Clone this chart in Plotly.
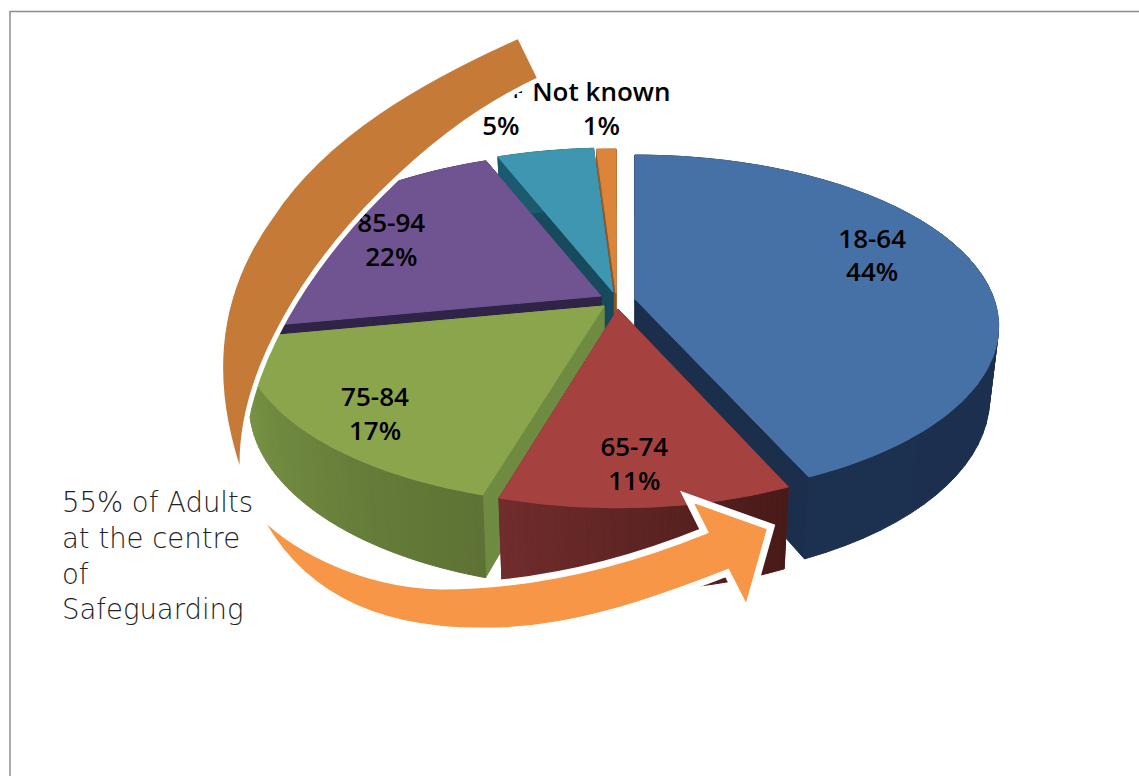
import math
import plotly.graph_objects as go

# ---- data ----
categories = ["18-64", "65-74", "75-84", "85-94", "95+", "Not known"]
values = [44, 11, 17, 22, 5, 1]
note_lines = ["55% of Adults", "at the centre", "of", "Safeguarding"]

# ---- styles and projection (not data) ----
W, H = 1139, 776
A, B, K, DEPTH, SHRINK = 359, 167, 0.16, 70, 0.975
WARP, WARP_AT, WARP_WIDTH = 2.9, 150, 55
CENTRES = {"18-64": (635, 299), "65-74": (618, 309), "75-84": (604, 306),
           "85-94": (601, 296), "95+": (613, 292), "Not known": (616, 293)}
X_SCALE = {"18-64": 1.0, "65-74": 0.98, "75-84": 1.0, "85-94": 1.0, "95+": 1.0, "Not known": 1.0}
TOP = {"18-64": "#4671a7", "65-74": "#a5423f", "75-84": "#8ba54c",
       "85-94": "#6f5491", "95+": "#3f96b0", "Not known": "#dc843a"}
WALL = {"18-64": "#1b2e4c", "65-74": "#6a2a28", "75-84": "#6f8b41",
        "85-94": "#2f2447", "95+": "#174a5c", "Not known": "#8f5522"}
SIDE = {"18-64": ("#1c3050", "#1a2c49"), "65-74": ("#702d2c", "#481a18"),
        "75-84": ("#7b9646", "#5d7234"), "85-94": ("#3f2f5f", "#3f2f5f"),
        "95+": ("#1c5a70", "#1c5a70"), "Not known": ("#9a5c26", "#9a5c26")}
LABEL_NUDGE = {"18-64": (13, -20), "65-74": (-2, 37), "75-84": (-42, 33),
               "85-94": (-15, -4), "95+": (-66, -84), "Not known": (-8, -83)}
DRAW_ORDER = ["Not known", "95+", "85-94", "75-84", "18-64", "65-74"]
N = 48


def project(deg, centre, frac=1.0, xs=1.0):
    """Clockwise pie angle -> picture position on the tilted, receding top face."""
    t = math.radians(deg - WARP * math.exp(-((deg - WARP_AT) / WARP_WIDTH) ** 2))
    u, v = frac * math.sin(t), frac * math.cos(t)
    d = 1 + K * v
    return centre[0] + xs * A * u / d, centre[1] - B * v / d, d


def lower(deg, centre, xs=1.0):
    x, y, d = project(deg, centre, 1.0, xs)
    return centre[0] + (x - centre[0]) * SHRINK, y + DEPTH / d


def mix(c0, c1, f):
    a = [int(c0[i:i + 2], 16) for i in (1, 3, 5)]
    b = [int(c1[i:i + 2], 16) for i in (1, 3, 5)]
    return "#%02x%02x%02x" % tuple(round(p + (q - p) * f) for p, q in zip(a, b))


def poly(xs, ys, color):
    fig.add_trace(go.Scatter(x=xs + xs[:1], y=ys + ys[:1], mode="lines", fill="toself",
                             fillcolor=color, line=dict(color=color, width=1),
                             hoverinfo="skip", showlegend=False))


fig = go.Figure()
total = sum(values)
spans, running = {}, 0.0
for name, val in zip(categories, values):
    spans[name] = (running, running + 360.0 * val / total)
    running += 360.0 * val / total

for name in DRAW_ORDER:
    a0, a1 = spans[name]
    c = CENTRES[name]
    r = X_SCALE[name]
    for edge in (a0, a1):
        ex, ey, _ = project(edge, c, 1.0, r)
        bx, by = lower(edge, c, r)
        poly([c[0], ex, bx, c[0]], [c[1], ey, by, c[1] + DEPTH], WALL[name])
    for i in range(N):
        s0 = a0 + (a1 - a0) * i / N
        s1 = a0 + (a1 - a0) * (i + 1) / N
        x0, y0, _ = project(s0, c, 1.0, r)
        x1, y1, _ = project(s1, c, 1.0, r)
        x2, y2 = lower(s1, c, r)
        x3, y3 = lower(s0, c, r)
        # gradient runs from picture-left to picture-right
        f = (i + 0.5) / N
        poly([x0, x1, x2, x3], [y0, y1, y2, y3], mix(SIDE[name][1], SIDE[name][0], f))
    arc = [project(a0 + (a1 - a0) * i / 120, c, 1.0, r) for i in range(121)]
    poly([c[0]] + [p[0] for p in arc], [c[1]] + [p[1] for p in arc], TOP[name])

lx, ly, lt = [], [], []
for name, val in zip(categories, values):
    a0, a1 = spans[name]
    x, y, _ = project((a0 + a1) / 2, CENTRES[name], 0.65)
    lx.append(x + LABEL_NUDGE[name][0])
    ly.append(y + LABEL_NUDGE[name][1])
    lt.append(f"{name}<br>{val}%")
fig.add_trace(go.Scatter(x=lx, y=ly, text=lt, mode="text", textposition="middle center",
                         textfont=dict(family="Open Sans", size=26, color="#000000", weight=600),
                         hoverinfo="skip", showlegend=False))

brown_arrow = ("M243,483 C209,390 210,300 272,215 C325,135 420,80 519,36 L540,79 "
               "C470,112 420,155 380,195 C320,255 232,370 243,483 Z")
orange_arrow = ("M252,503 C285,545 360,584 440,586 C530,586 620,565 704,531 L687,497 L771,527 "
                "L747,612 L727,573 C650,603 570,631 490,631 C400,633 300,610 252,503 Z")
GREY = "#8c8c8c"
fig.update_layout(
    width=W, height=H, margin=dict(l=0, r=0, t=0, b=0),
    paper_bgcolor="white", plot_bgcolor="white", showlegend=False,
    xaxis=dict(range=[0, W], visible=False, fixedrange=True),
    yaxis=dict(range=[H, 0], visible=False, fixedrange=True),
    shapes=[
        dict(type="path", path=brown_arrow, xref="x", yref="y", fillcolor="#c67a37",
             line=dict(color="white", width=5), layer="above"),
        dict(type="path", path=orange_arrow, xref="x", yref="y", fillcolor="#f79646",
             line=dict(color="white", width=7), layer="above"),
        dict(type="line", x0=10, x1=W, y0=11.5, y1=11.5, xref="x", yref="y",
             line=dict(color=GREY, width=1.5), layer="above"),
        dict(type="line", x0=10, x1=10, y0=11, y1=H, xref="x", yref="y",
             line=dict(color=GREY, width=1.5), layer="above"),
    ],
    annotations=[dict(x=60, y=484, xref="x", yref="y", xanchor="left", yanchor="top",
                      align="left", showarrow=False, text="<br>".join(note_lines),
                      font=dict(family="DejaVu Sans", size=27.5, color="#222222", weight=200))],
)
fig.write_html("out.html", config=dict(displayModeBar=False),
               post_script="document.body.style.margin='0';document.body.style.overflow='hidden';")
